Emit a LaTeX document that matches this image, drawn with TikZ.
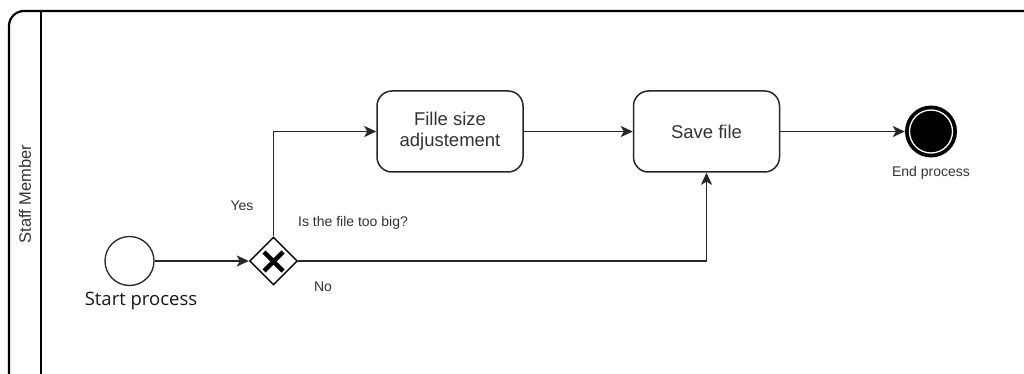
\documentclass[tikz,border=0pt]{standalone}
\usepackage{fontspec}
\setmainfont{Liberation Sans}
\newfontfamily\uifont{Open Sans}
\usetikzlibrary{shapes.geometric,arrows.meta}

\tikzset{
  pool/.style={draw=black, line width=2.2pt, rounded corners=15pt},
  taskbox/.style={draw=black!85, line width=1.5pt, rounded corners=15pt,
    minimum width=146pt, minimum height=81pt, align=center,
    font=\fontsize{18.5}{21}\selectfont, text=black!80},
  startev/.style={circle, draw=black!85, line width=1.3pt, minimum size=49pt, inner sep=0pt},
  endev/.style={circle, fill=black, minimum size=52pt, inner sep=0pt},
  gateway/.style={diamond, draw=black, line width=1.4pt, minimum width=48pt,
    minimum height=48pt, inner sep=0pt},
  flow/.style={draw=black!85, line width=1.6pt,
    -{Stealth[length=12pt, width=11pt, inset=3pt]}},
  smalllbl/.style={font=\fontsize{14}{16}\selectfont, text=black!80},
}

\begin{document}
\begin{tikzpicture}[x=1pt, y=-1pt]
  \useasboundingbox (0,0) rectangle (1024,374);
  \fill[white] (0,0) rectangle (1024,374);

  % swimlane
  \begin{scope}
    \clip (0,0) rectangle (1024,374);
    \draw[pool] (9,11) rectangle (1060,390);
    \draw[line width=2.2pt] (41,11) -- (41,390);
  \end{scope}
  \node[rotate=90, font=\fontsize{16.5}{18}\selectfont, text=black!80] (lane) at (25,194) {Staff Member};

  % events, gateway and tasks
  \node[startev] (start) at (129.5,261) {};
  \node[font=\uifont\fontsize{18.5}{21}\selectfont, text=black!90] (startlbl) at (141,301) {Start process};

  \node[gateway] (gw) at (273.5,261) {};
  \draw[line width=4.5pt] (264,252) -- (283,271) (283,252) -- (264,271);

  \node[taskbox] (t1) at (450,131.5) {Fille size\\adjustement};
  \node[taskbox] (t2) at (706.5,131.5) {Save file};

  \node[endev] (end) at (931,131.5) {};
  \draw[white, line width=1.3pt] (end.center) circle (21.5);
  \node[smalllbl] (endlbl) at (931,173) {End process};

  % labels
  \node[smalllbl] (yes) at (242,206) {Yes};
  \node[smalllbl] (question) at (353,223) {Is the file too big?};
  \node[smalllbl] (no) at (323,287) {No};

  % sequence flows
  \draw[flow] (start.east) -- (gw.west);
  \draw[flow] (gw.north) |- (t1.west);
  \draw[flow] (gw.east) -| (t2.south);
  \draw[flow] (t1.east) -- (t2.west);
  \draw[flow] (t2.east) -- (end.west);
\end{tikzpicture}
\end{document}
